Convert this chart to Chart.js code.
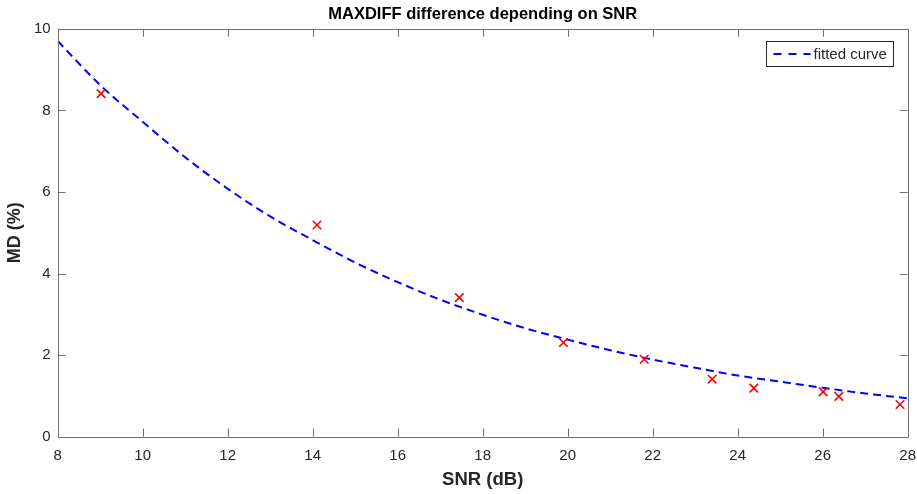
<!DOCTYPE html>
<html>
<head>
<meta charset="utf-8">
<script src="https://cdn.jsdelivr.net/npm/chart.js@4"></script>
<style>
  html, body { margin: 0; padding: 0; background: #fff; }
  #wrap { width: 917px; height: 494px; }
</style>
</head>
<body>
<div id="wrap"><canvas id="mdChart" width="917" height="494"></canvas></div>
<script>
// measured points
const snrValues = [9.02, 14.1, 17.45, 19.9, 21.8, 23.4, 24.38, 26.01, 26.38, 27.82]
const mdValues = [8.41, 5.19, 3.41, 2.31, 1.9, 1.41, 1.19, 1.1, 0.99, 0.79]

// fitted curve at each dB
const curveSnr = [8, 9, 10, 11, 12, 13, 14, 15, 16, 17, 18, 19, 20, 21, 22, 23, 24, 25, 26, 27, 28]
const curveMd = [9.7, 8.62, 7.72, 6.85, 6.08, 5.4, 4.82, 4.27, 3.79, 3.36, 2.99, 2.66, 2.38, 2.12, 1.89, 1.69, 1.5, 1.35, 1.2, 1.06, 0.94]

const xTicks = [8, 10, 12, 14, 16, 18, 20, 22, 24, 26, 28]
const yTicks = [0, 2, 4, 6, 8, 10]

const fontFamily = '"Liberation Sans", Arial, Helvetica, sans-serif'
const textColor = '#262626'
const axisColor = '#707070'

function toPoints (xs, ys) {
  return xs.map((x, i) => ({ x: x, y: ys[i] }))
}

// center the title over the plot area instead of the whole canvas
const titleOverPlot = {
  id: 'titleOverPlot',
  afterLayout (chart) {
    const t = chart.titleBlock
    const a = chart.chartArea
    if (t) {
      t.left = a.left
      t.right = a.right
      t.width = a.right - a.left
    }
  }
}

// box around the axes with inward ticks, like the original
const axesBox = {
  id: 'axesBox',
  afterDatasetsDraw (chart) {
    const { ctx, chartArea: a, scales } = chart
    const len = 8
    ctx.save()
    ctx.strokeStyle = axisColor
    ctx.lineWidth = 1
    ctx.beginPath()
    ctx.rect(Math.round(a.left) + 0.5, Math.round(a.top) + 0.5, Math.round(a.right - a.left), Math.round(a.bottom - a.top))
    xTicks.forEach(v => {
      const px = Math.round(scales.x.getPixelForValue(v)) + 0.5
      ctx.moveTo(px, a.bottom)
      ctx.lineTo(px, a.bottom - len)
      ctx.moveTo(px, a.top)
      ctx.lineTo(px, a.top + len)
    })
    yTicks.forEach(v => {
      const py = Math.round(scales.y.getPixelForValue(v)) + 0.5
      ctx.moveTo(a.left, py)
      ctx.lineTo(a.left + len, py)
      ctx.moveTo(a.right, py)
      ctx.lineTo(a.right - len, py)
    })
    ctx.stroke()
    ctx.restore()
  }
}

// legend box in the top right corner of the plot
const boxLegend = {
  id: 'boxLegend',
  afterDraw (chart) {
    const { ctx, chartArea: a } = chart
    const ds = chart.data.datasets[1]
    const w = 127
    const h = 25
    const x = Math.round(a.right - 15 - w) + 0.5
    const y = Math.round(a.top + 12) + 0.5
    ctx.save()
    ctx.fillStyle = '#fff'
    ctx.strokeStyle = textColor
    ctx.lineWidth = 1
    ctx.fillRect(x, y, w, h)
    ctx.strokeRect(x, y, w, h)
    ctx.strokeStyle = ds.borderColor
    ctx.lineWidth = ds.borderWidth
    ctx.setLineDash([8, 7])
    ctx.beginPath()
    ctx.moveTo(x + 7, y + h / 2)
    ctx.lineTo(x + 44, y + h / 2)
    ctx.stroke()
    ctx.setLineDash([])
    ctx.fillStyle = textColor
    ctx.font = '15px ' + fontFamily
    ctx.textBaseline = 'middle'
    ctx.fillText(ds.label, x + 47, y + h / 2 + 1)
    ctx.restore()
  }
}

const ctx = document.getElementById('mdChart').getContext('2d')

new Chart(ctx, {
  type: 'scatter',
  data: {
    datasets: [
      {
        label: 'measured',
        data: toPoints(snrValues, mdValues),
        showLine: false,
        pointStyle: 'crossRot',
        pointRadius: 6,
        pointBorderColor: '#ff0000',
        pointBorderWidth: 1.6,
        borderColor: '#ff0000'
      },
      {
        label: 'fitted curve',
        data: toPoints(curveSnr, curveMd),
        showLine: true,
        borderColor: '#0000ff',
        borderWidth: 2,
        borderDash: [8, 5],
        cubicInterpolationMode: 'monotone',
        pointRadius: 0,
        fill: false
      }
    ]
  },
  options: {
    responsive: false,
    animation: false,
    devicePixelRatio: 1,
    layout: { padding: { left: 0, right: 9.3, top: 0, bottom: 0 } },
    plugins: {
      legend: { display: false },
      tooltip: { enabled: false },
      title: {
        display: true,
        text: 'MAXDIFF difference depending on SNR',
        color: '#000',
        font: { family: fontFamily, size: 16.5, weight: 'bold' },
        padding: { top: 5, bottom: 4 }
      }
    },
    scales: {
      x: {
        type: 'linear',
        min: 8,
        max: 28,
        afterBuildTicks: scale => { scale.ticks = xTicks.map(v => ({ value: v })) },
        afterFit: scale => {
          scale.height = 57.3
          scale.paddingLeft = 0
          scale.paddingRight = 0
        },
        grid: { display: false, drawTicks: false },
        border: { display: false },
        ticks: { color: textColor, font: { family: fontFamily, size: 15 }, padding: 10, maxRotation: 0 },
        title: {
          display: true,
          text: 'SNR (dB)',
          color: textColor,
          font: { family: fontFamily, size: 18.5, weight: 'bold' },
          padding: { top: 0, bottom: 3 }
        }
      },
      y: {
        min: 0,
        max: 10,
        afterBuildTicks: scale => { scale.ticks = yTicks.map(v => ({ value: v })) },
        afterFit: scale => { scale.width = 57.7 },
        grid: { display: false, drawTicks: false },
        border: { display: false },
        ticks: { color: textColor, font: { family: fontFamily, size: 15 }, padding: 7 },
        title: {
          display: true,
          text: 'MD (%)',
          color: textColor,
          font: { family: fontFamily, size: 18, weight: 'bold' },
          padding: { top: 4, bottom: 0 }
        }
      }
    }
  },
  plugins: [titleOverPlot, axesBox, boxLegend]
})
</script>
</body>
</html>
